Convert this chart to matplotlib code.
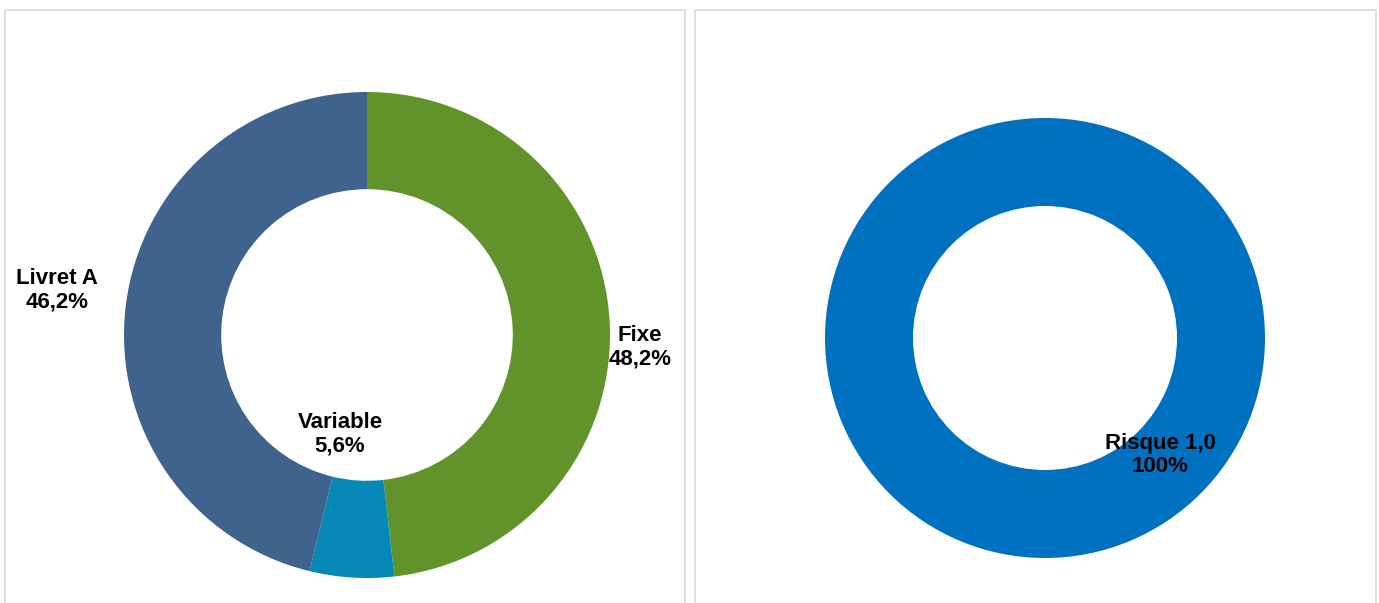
import matplotlib.pyplot as plt
from matplotlib.patches import Rectangle

# taux de la dette par type
rate_labels = ["Fixe", "Variable", "Livret A"]
rate_shares = [48.2, 5.6, 46.2]
rate_colors = ["#62922A", "#0588B5", "#3F638D"]

# classement par risque
risk_labels = ["Risque 1,0"]
risk_shares = [100]
risk_colors = ["#0070C0"]

W, H = 1379, 603
plt.rcParams["font.family"] = ["Liberation Sans", "DejaVu Sans"]

fig = plt.figure(figsize=(W / 100, H / 100), dpi=100)
fig.patch.set_facecolor("white")

# cadres gris des deux panneaux
for x0, x1 in [(5, 685), (695, 1376)]:
    fig.add_artist(Rectangle((x0 / W, -0.05), (x1 - x0) / W, 1.05 - 10 / H,
                             transform=fig.transFigure, fill=False,
                             edgecolor="#D9D9D9", linewidth=1.2))


def donut(cx, cy, r, shares, colors):
    ax = fig.add_axes([(cx - r) / W, (H - cy - r) / H, 2 * r / W, 2 * r / H])
    ax.pie(shares, colors=colors, startangle=90, counterclock=False,
           radius=1, wedgeprops=dict(width=0.4, linewidth=0))
    ax.set_xlim(-1, 1)
    ax.set_ylim(-1, 1)
    ax.set_aspect("equal")
    ax.axis("off")
    return ax


def fmt_pct(v):
    s = f"{v:.1f}".replace(".", ",")
    return s.replace(",0", "") + "%"


text_kw = dict(ha="center", va="center", fontsize=16, fontweight="bold",
               color="#000000", linespacing=1.15)

ax1 = donut(367, 335, 243, rate_shares, rate_colors)
label_pos1 = [(1.123, -0.05), (-0.111, -0.41), (-1.276, 0.185)]
for name, val, (x, y) in zip(rate_labels, rate_shares, label_pos1):
    ax1.text(x, y, f"{name}\n{fmt_pct(val)}", clip_on=False, **text_kw)

ax2 = donut(1045, 338, 220, risk_shares, risk_colors)
label_pos2 = [(0.523, -0.532)]
for name, val, (x, y) in zip(risk_labels, risk_shares, label_pos2):
    ax2.text(x, y, f"{name}\n{val}%", clip_on=False, **text_kw)

fig.savefig("out.png", dpi=100)
